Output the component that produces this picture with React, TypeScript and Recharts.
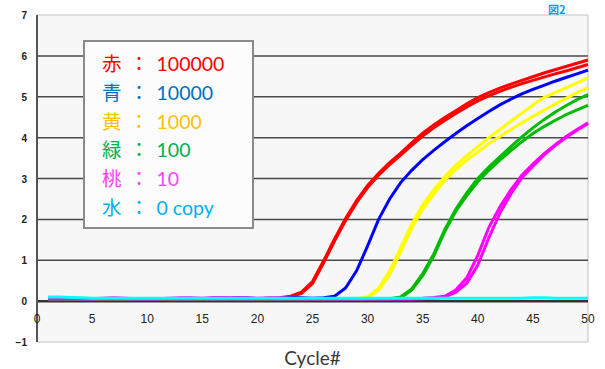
import React from 'react';
import {
  CartesianGrid,
  Line,
  LineChart,
  ReferenceLine,
  XAxis,
  YAxis,
} from 'recharts';

// cycle numbers 1..50
const cycles = [
  1, 2, 3, 4, 5, 6, 7, 8, 9, 10, 11, 12, 13, 14, 15, 16, 17, 18, 19, 20, 21, 22, 23, 24, 25,
  26, 27, 28, 29, 30, 31, 32, 33, 34, 35, 36, 37, 38, 39, 40, 41, 42, 43, 44, 45, 46, 47, 48, 49, 50,
];

// fluorescence values, one per cycle
const redA = [
  0.05, 0.05, 0.04, 0.05, 0.05, 0.04, 0.05, 0.05, 0.05, 0.04, 0.05, 0.05, 0.05, 0.04, 0.05, 0.05, 0.05, 0.05, 0.06, 0.06, 0.07, 0.08, 0.12, 0.22, 0.48,
  0.98, 1.52, 2.02, 2.46, 2.83, 3.13, 3.39, 3.62, 3.87, 4.11, 4.31, 4.49, 4.66, 4.83, 4.98, 5.1, 5.21, 5.31, 5.4, 5.49, 5.58, 5.66, 5.74, 5.82, 5.9,
];
const redB = [
  0.04, 0.04, 0.05, 0.04, 0.04, 0.05, 0.04, 0.04, 0.04, 0.05, 0.04, 0.04, 0.04, 0.05, 0.04, 0.04, 0.05, 0.05, 0.05, 0.06, 0.06, 0.07, 0.1, 0.19, 0.43,
  0.93, 1.47, 1.97, 2.41, 2.78, 3.08, 3.34, 3.57, 3.81, 4.04, 4.24, 4.42, 4.59, 4.75, 4.9, 5.02, 5.13, 5.23, 5.32, 5.4, 5.48, 5.56, 5.63, 5.71, 5.79,
];
const blue = [
  0.05, 0.05, 0.05, 0.05, 0.05, 0.05, 0.05, 0.05, 0.05, 0.05, 0.05, 0.05, 0.05, 0.05, 0.05, 0.06, 0.06, 0.08, 0.08, 0.06, 0.06, 0.07, 0.09, 0.08, 0.07,
  0.08, 0.12, 0.32, 0.74, 1.35, 2.0, 2.5, 2.9, 3.2, 3.46, 3.69, 3.9, 4.1, 4.29, 4.47, 4.64, 4.8, 4.94, 5.07, 5.18, 5.28, 5.38, 5.47, 5.56, 5.65,
];
const yellowA = [
  0.04, 0.04, 0.04, 0.04, 0.04, 0.04, 0.04, 0.04, 0.04, 0.04, 0.04, 0.04, 0.04, 0.04, 0.04, 0.04, 0.04, 0.04, 0.04, 0.04, 0.04, 0.04, 0.04, 0.05, 0.05,
  0.05, 0.05, 0.05, 0.06, 0.1, 0.32, 0.74, 1.3, 1.88, 2.35, 2.72, 3.05, 3.32, 3.56, 3.78, 4.0, 4.2, 4.4, 4.6, 4.8, 4.98, 5.1, 5.22, 5.34, 5.46,
];
const yellowB = [
  0.04, 0.04, 0.04, 0.04, 0.04, 0.04, 0.04, 0.04, 0.04, 0.04, 0.04, 0.04, 0.04, 0.04, 0.04, 0.04, 0.04, 0.04, 0.04, 0.04, 0.04, 0.04, 0.04, 0.04, 0.04,
  0.05, 0.05, 0.05, 0.05, 0.08, 0.27, 0.64, 1.2, 1.78, 2.25, 2.62, 2.95, 3.22, 3.45, 3.65, 3.85, 4.03, 4.2, 4.36, 4.52, 4.67, 4.82, 4.96, 5.1, 5.22,
];
const greenA = [
  0.04, 0.04, 0.04, 0.04, 0.04, 0.04, 0.04, 0.04, 0.04, 0.04, 0.04, 0.04, 0.04, 0.04, 0.04, 0.04, 0.04, 0.04, 0.04, 0.04, 0.04, 0.04, 0.04, 0.04, 0.04,
  0.04, 0.04, 0.04, 0.05, 0.05, 0.05, 0.06, 0.1, 0.3, 0.67, 1.15, 1.75, 2.25, 2.65, 3.0, 3.28, 3.53, 3.78, 4.02, 4.24, 4.44, 4.62, 4.78, 4.93, 5.05,
];
const greenB = [
  0.04, 0.04, 0.04, 0.04, 0.04, 0.04, 0.04, 0.04, 0.04, 0.04, 0.04, 0.04, 0.04, 0.04, 0.04, 0.04, 0.04, 0.04, 0.04, 0.04, 0.04, 0.04, 0.04, 0.04, 0.04,
  0.04, 0.04, 0.04, 0.04, 0.05, 0.05, 0.05, 0.08, 0.27, 0.62, 1.1, 1.7, 2.2, 2.58, 2.92, 3.2, 3.45, 3.68, 3.9, 4.1, 4.27, 4.42, 4.56, 4.68, 4.79,
];
const pinkA = [
  0.07, 0.08, 0.07, 0.06, 0.06, 0.07, 0.08, 0.07, 0.06, 0.06, 0.06, 0.07, 0.08, 0.08, 0.07, 0.09, 0.09, 0.08, 0.08, 0.07, 0.08, 0.08, 0.07, 0.06, 0.06,
  0.06, 0.06, 0.06, 0.06, 0.06, 0.06, 0.06, 0.06, 0.06, 0.07, 0.09, 0.12, 0.27, 0.57, 1.12, 1.8, 2.3, 2.72, 3.08, 3.35, 3.6, 3.82, 4.02, 4.2, 4.36,
];
const pinkB = [
  0.05, 0.05, 0.05, 0.05, 0.05, 0.05, 0.05, 0.05, 0.05, 0.05, 0.05, 0.05, 0.05, 0.05, 0.05, 0.05, 0.05, 0.05, 0.05, 0.05, 0.05, 0.05, 0.05, 0.05, 0.05,
  0.05, 0.05, 0.05, 0.05, 0.05, 0.05, 0.05, 0.05, 0.05, 0.06, 0.07, 0.1, 0.22, 0.44, 0.88, 1.55, 2.15, 2.62, 3.02, 3.3, 3.57, 3.8, 4.0, 4.18, 4.34,
];
const cyan = [
  0.1, 0.1, 0.09, 0.08, 0.07, 0.07, 0.07, 0.07, 0.07, 0.07, 0.07, 0.07, 0.07, 0.07, 0.07, 0.07, 0.07, 0.07, 0.07, 0.07, 0.07, 0.07, 0.07, 0.07, 0.07,
  0.07, 0.07, 0.07, 0.07, 0.07, 0.07, 0.07, 0.07, 0.07, 0.07, 0.07, 0.07, 0.07, 0.07, 0.07, 0.07, 0.07, 0.07, 0.07, 0.08, 0.08, 0.07, 0.07, 0.07, 0.07,
];

const xTicks = [0, 5, 10, 15, 20, 25, 30, 35, 40, 45, 50];
const yTicks = [-1, 0, 1, 2, 3, 4, 5, 6, 7];
const gridValues = [1, 2, 3, 4, 5, 6];

const legendRows = [
  { kanji: '赤', label: '100000', color: '#ff0000' },
  { kanji: '青', label: '10000', color: '#0070c0' },
  { kanji: '黄', label: '1000', color: '#ffc000' },
  { kanji: '緑', label: '100', color: '#00b050' },
  { kanji: '桃', label: '10', color: '#ff40ff' },
  { kanji: '水', label: '0 copy', color: '#00b0f0' },
];

const seriesList = [
  { key: 'redA', values: redA, color: '#ff0000' },
  { key: 'redB', values: redB, color: '#ff0000' },
  { key: 'blue', values: blue, color: '#0000ff' },
  { key: 'yellowA', values: yellowA, color: '#ffff00' },
  { key: 'yellowB', values: yellowB, color: '#ffff00' },
  { key: 'greenA', values: greenA, color: '#00bb00' },
  { key: 'greenB', values: greenB, color: '#00bb00' },
  { key: 'pinkA', values: pinkA, color: '#ff00ff' },
  { key: 'pinkB', values: pinkB, color: '#ff00ff' },
  { key: 'cyan', values: cyan, color: '#00ffff' },
];

const data = cycles.map((c, i) => {
  const row: Record<string, number> = { cycle: c };
  seriesList.forEach((s) => {
    row[s.key] = s.values[i];
  });
  return row;
});

const XTick = ({ x, y, payload }: any) => (
  <text
    x={x}
    y={y - 21}
    textAnchor="middle"
    fontSize={12}
    fill="#222"
    fontFamily="'Liberation Sans', Arial, sans-serif"
  >
    {payload.value}
  </text>
);

const YTick = ({ x, y, payload }: any) => (
  <text
    x={x}
    y={y + 4}
    textAnchor="end"
    fontSize={10}
    fontWeight="bold"
    fill="#222"
    fontFamily="'Liberation Sans', Arial, sans-serif"
  >
    {payload.value < 0 ? '−' + Math.abs(payload.value) : payload.value}
  </text>
);

export default function App() {
  return (
    <div
      style={{
        position: 'absolute',
        left: 0,
        top: 0,
        width: 605,
        height: 369,
        background: '#fff',
        overflow: 'hidden',
      }}
    >
      <LineChart
        width={605}
        height={369}
        data={data}
        margin={{ top: 15, right: 17, left: 0, bottom: 0 }}
      >
        <CartesianGrid horizontal={false} vertical={false} fill="#f7f7f7" />
        <XAxis
          dataKey="cycle"
          type="number"
          domain={[0, 50]}
          ticks={xTicks}
          axisLine={false}
          tickLine={false}
          tickSize={0}
          height={27}
          tick={<XTick />}
          label={{
            value: 'Cycle#',
            position: 'insideBottom',
            offset: 4,
            style: { fontFamily: 'Lato, sans-serif', fontSize: 19, fill: '#3a3a3a' },
          }}
        />
        <YAxis
          type="number"
          domain={[-1, 7]}
          ticks={yTicks}
          width={37}
          axisLine={{ stroke: '#555', strokeWidth: 2 }}
          tickLine={false}
          tickSize={0}
          tickMargin={10}
          tick={<YTick />}
        />
        <ReferenceLine y={7} stroke="#d4d4d4" strokeWidth={1.5} />
        <ReferenceLine y={-1} stroke="#d4d4d4" strokeWidth={1.5} />
        <ReferenceLine x={50} stroke="#d4d4d4" strokeWidth={1.5} />
        {gridValues.map((v) => (
          <ReferenceLine key={v} y={v} stroke="#4a4a4a" strokeWidth={1.5} />
        ))}
        <ReferenceLine y={0} stroke="#333" strokeWidth={2.5} />
        {seriesList.map((s) => (
          <Line
            key={s.key}
            dataKey={s.key}
            type="linear"
            stroke={s.color}
            strokeWidth={3}
            dot={false}
            isAnimationActive={false}
          />
        ))}
      </LineChart>
      <div
        style={{
          position: 'absolute',
          left: 83,
          top: 40,
          width: 167,
          height: 185,
          border: '2px solid #8a8a8a',
          background: '#fcfcfc',
          boxSizing: 'content-box',
        }}
      >
        {legendRows.map((r, i) => (
          <div
            key={r.kanji}
            style={{
              position: 'absolute',
              left: 17,
              top: 6 + i * 28.8,
              height: 29,
              lineHeight: '29px',
              fontSize: 19.5,
              color: r.color,
              fontFamily: "Lato, 'Noto Sans CJK JP', sans-serif",
              whiteSpace: 'nowrap',
            }}
          >
            <span style={{ fontFamily: "'Noto Sans CJK JP', sans-serif" }}>{r.kanji}</span>
            <span style={{ display: 'inline-block', width: 35, textAlign: 'center' }}>：</span>
            <span>{r.label}</span>
          </div>
        ))}
      </div>
      <div
        style={{
          position: 'absolute',
          left: 548,
          top: 1,
          fontSize: 11,
          fontWeight: 'bold',
          color: '#00a0e9',
          fontFamily: "'Noto Sans CJK JP', sans-serif",
        }}
      >
        図2
      </div>
    </div>
  );
}
